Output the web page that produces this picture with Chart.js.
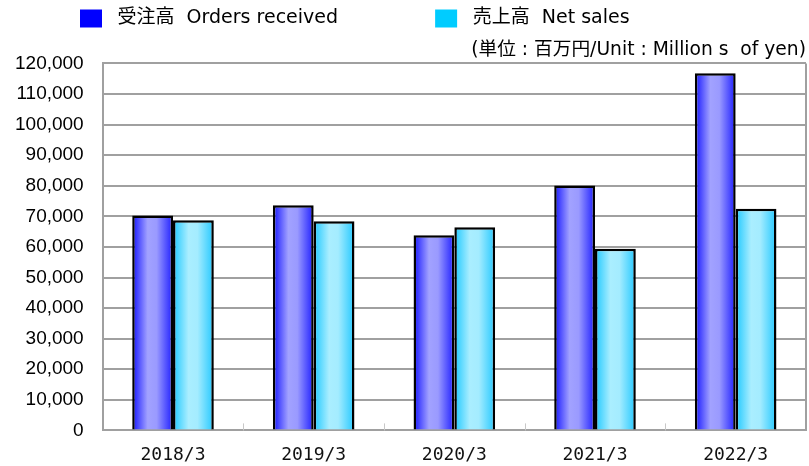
<!DOCTYPE html>
<html><head><meta charset="utf-8">
<script src="https://cdn.jsdelivr.net/npm/chart.js@4.4.1/dist/chart.umd.min.js"></script>
<style>html,body{margin:0;padding:0;background:#fff}#wrap{width:809px;height:466px;position:relative}</style>
</head><body><div id="wrap"><canvas id="c" width="809" height="466"></canvas></div>
<script>
const categories = ['2018/3', '2019/3', '2020/3', '2021/3', '2022/3'];
const ordersReceived = [70300, 73600, 63800, 80100, 116800];
const netSales = [68700, 68400, 66400, 59400, 72500];
const seriesLabels = ['受注高  Orders received', '売上高  Net sales'];
const legendBoxColors = ['#0000ff', '#00ccff'];
const unitNote = '(単位 : 百万円/Unit : Million s  of yen)';
const yMin = 0, yMax = 120000, yStep = 10000;

const gradStops = [
  [[0, '#1414ff'], [0.38, '#a2a2ff'], [0.6, '#9a9aff'], [1, '#1e1eff']],
  [[0, '#1ec8ff'], [0.38, '#aaeeff'], [0.6, '#a4ecff'], [1, '#24c8ff']]
];

const barGradient = {
  id: 'barGradient',
  beforeDatasetsDraw(chart) {
    const ctx = chart.ctx;
    chart.data.datasets.forEach((ds, di) => {
      const meta = chart.getDatasetMeta(di);
      meta.data.forEach(bar => {
        const p = bar.getProps(['x', 'width'], true);
        const g = ctx.createLinearGradient(p.x - p.width / 2, 0, p.x + p.width / 2, 0);
        gradStops[di].forEach(s => g.addColorStop(s[0], s[1]));
        bar.options = Object.assign({}, bar.options, { backgroundColor: g });
      });
    });
  },
  afterDatasetsDraw(chart) {
    const ctx = chart.ctx, xs = chart.scales.x, ca = chart.chartArea;
    ctx.save();
    ctx.strokeStyle = '#a0a0a0';
    ctx.lineWidth = 2;
    ctx.beginPath();
    ctx.moveTo(ca.right, ca.top);
    ctx.lineTo(ca.right, ca.bottom);
    ctx.stroke();
    ctx.lineWidth = 1;
    ctx.strokeStyle = '#c8c8c8';
    for (let i = 1; i < categories.length; i++) {
      const px = Math.round((xs.getPixelForTick(i - 1) + xs.getPixelForTick(i)) / 2) + 0.5;
      ctx.beginPath();
      ctx.moveTo(px, ca.bottom);
      ctx.lineTo(px, ca.bottom - 7);
      ctx.stroke();
    }
    ctx.restore();
  },
  afterLayout(chart) {
    const shift = 56;
    chart.legend.left += shift;
    chart.legend.right += shift;
  }
};

new Chart(document.getElementById('c'), {
  type: 'bar',
  data: {
    labels: categories,
    datasets: [
      { label: ' ' + seriesLabels[0] + '\u3000\u3000\u3000\u3000  ', data: ordersReceived, backgroundColor: legendBoxColors[0], borderColor: '#000', borderWidth: 2.5 },
      { label: ' ' + seriesLabels[1], data: netSales, backgroundColor: legendBoxColors[1], borderColor: '#000', borderWidth: 2.5 }
    ]
  },
  options: {
    responsive: false,
    animation: false,
    locale: 'en-US',
    layout: { autoPadding: false, padding: { left: 15, right: 3, top: 0, bottom: 0 } },
    datasets: { bar: { categoryPercentage: 0.58, barPercentage: 1.0 } },
    plugins: {
      legend: {
        position: 'top',
        align: 'start',
        labels: {
          boxWidth: 22, boxHeight: 18, padding: 9, color: '#000',
          font: { family: "'DejaVu Sans', 'Noto Sans CJK JP', sans-serif", size: 19 },
          generateLabels(chart) {
            return Chart.defaults.plugins.legend.labels.generateLabels(chart).map((it, i) => {
              it.fillStyle = legendBoxColors[i];
              it.strokeStyle = legendBoxColors[i];
              it.lineWidth = 0;
              return it;
            });
          }
        }
      },
      subtitle: {
        display: true,
        text: unitNote,
        align: 'end',
        position: 'top',
        weight: 500,
        color: '#000',
        font: { family: "'DejaVu Sans', 'Noto Sans CJK JP', sans-serif", size: 18.7, weight: 'normal' },
        padding: { top: 1, bottom: 2 }
      },
      tooltip: { enabled: false }
    },
    scales: {
      x: {
        grid: { display: false, drawTicks: false },
        border: { display: true, color: '#a0a0a0', width: 2 },
        ticks: { color: '#111', padding: 14, font: { family: "'DejaVu Sans Mono', monospace", size: 18 } },
        afterFit(scale) { scale.height -= scale.options.ticks.padding; }
      },
      y: {
        min: yMin, max: yMax,
        grid: { color: '#a0a0a0', lineWidth: 2, drawTicks: false },
        border: { display: true, color: '#a0a0a0', width: 2 },
        ticks: { stepSize: yStep, color: '#000', padding: 19, font: { family: "'Liberation Sans', Arial, sans-serif", size: 19 } },
        afterFit(scale) { scale.width -= scale.options.ticks.padding; }
      }
    }
  },
  plugins: [barGradient]
});
</script>
</body></html>
